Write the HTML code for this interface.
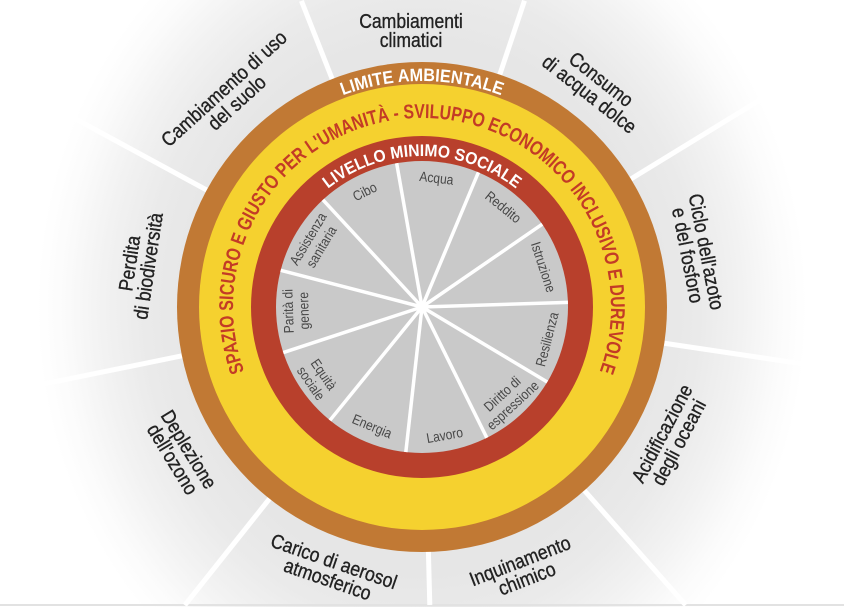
<!DOCTYPE html>
<html>
<head>
<meta charset="utf-8">
<style>
html,body{margin:0;padding:0;background:#fff;width:844px;height:607px;overflow:hidden;}
svg{display:block;}
.ol{font-family:"Liberation Sans",sans-serif;font-size:20px;fill:#222;stroke:#222;stroke-width:0.35px;text-anchor:middle;}
.il{font-family:"Liberation Sans",sans-serif;font-size:14px;fill:#474747;text-anchor:middle;}
.rt{font-family:"Liberation Sans",sans-serif;font-weight:bold;text-anchor:middle;}
</style>
</head>
<body>
<svg width="844" height="607" viewBox="0 0 844 607" xmlns="http://www.w3.org/2000/svg">
<defs>
<radialGradient id="bg" cx="0" cy="0" r="1" gradientUnits="userSpaceOnUse" gradientTransform="translate(422,307) scale(385,440)">
<stop offset="0" stop-color="#e4e4e4"/>
<stop offset="0.6" stop-color="#e6e6e6"/>
<stop offset="0.72" stop-color="#eaeaea"/>
<stop offset="0.83" stop-color="#f2f2f2"/>
<stop offset="0.93" stop-color="#fbfbfb"/>
<stop offset="1" stop-color="#ffffff"/>
</radialGradient>
<path id="pBrown" d="M 196 307 A 226 226 0 0 1 648 307"/>
<path id="pYellow" d="M 267.2 415.4 A 189 189 0 1 1 576.8 415.4"/>
<path id="pRed" d="M 271 307 A 151 151 0 0 1 573 307"/>
</defs>

<rect width="844" height="607" fill="#fff"/>
<rect width="844" height="607" fill="url(#bg)"/>
<rect x="0" y="604" width="844" height="2" fill="#e2e2e2"/>

<!-- outer spokes -->
<g transform="translate(422,307)" stroke="#ffffff" stroke-width="5">
<line x1="0" y1="-240" x2="0" y2="-329" transform="rotate(-21.5)"/>
<line x1="0" y1="-240" x2="0" y2="-323" transform="rotate(18.5)"/>
<line x1="0" y1="-240" x2="0" y2="-420" transform="rotate(58.5)"/>
<line x1="0" y1="-240" x2="0" y2="-420" transform="rotate(98.5)"/>
<line x1="0" y1="-240" x2="0" y2="-398" transform="rotate(138.5)"/>
<line x1="0" y1="-240" x2="0" y2="-298" transform="rotate(178.5)"/>
<line x1="0" y1="-240" x2="0" y2="-381" transform="rotate(218.5)"/>
<line x1="0" y1="-240" x2="0" y2="-420" transform="rotate(258.5)"/>
<line x1="0" y1="-240" x2="0" y2="-420" transform="rotate(298.5)"/>
</g>

<!-- rings -->
<circle cx="422" cy="307" r="245" fill="#c17934"/>
<circle cx="422" cy="307" r="223" fill="#f5d12f"/>
<circle cx="422" cy="307" r="171" fill="#b8402c"/>
<circle cx="422" cy="307" r="146" fill="#c9c9c9"/>

<!-- inner spokes -->
<g transform="translate(422,307)" stroke="#ffffff" stroke-width="3.5">
<line x1="0" y1="0" x2="0" y2="-146" transform="rotate(-10)"/>
<line x1="0" y1="0" x2="0" y2="-146" transform="rotate(22.73)"/>
<line x1="0" y1="0" x2="0" y2="-146" transform="rotate(55.45)"/>
<line x1="0" y1="0" x2="0" y2="-146" transform="rotate(88.18)"/>
<line x1="0" y1="0" x2="0" y2="-146" transform="rotate(120.91)"/>
<line x1="0" y1="0" x2="0" y2="-146" transform="rotate(153.64)"/>
<line x1="0" y1="0" x2="0" y2="-146" transform="rotate(186.36)"/>
<line x1="0" y1="0" x2="0" y2="-146" transform="rotate(219.09)"/>
<line x1="0" y1="0" x2="0" y2="-146" transform="rotate(251.82)"/>
<line x1="0" y1="0" x2="0" y2="-146" transform="rotate(284.55)"/>
<line x1="0" y1="0" x2="0" y2="-146" transform="rotate(317.27)"/>
</g>

<!-- ring texts -->
<text class="rt" font-size="18" fill="#ffffff"><textPath href="#pBrown" startOffset="50%" textLength="162" lengthAdjust="spacingAndGlyphs">LIMITE AMBIENTALE</textPath></text>
<text class="rt" font-size="20" fill="#c33b26"><textPath href="#pYellow" startOffset="50%" textLength="725" lengthAdjust="spacingAndGlyphs">SPAZIO SICURO E GIUSTO PER L'UMANITÀ - SVILUPPO ECONOMICO INCLUSIVO E DUREVOLE</textPath></text>
<text class="rt" font-size="17" fill="#ffffff"><textPath href="#pRed" startOffset="50%" textLength="203" lengthAdjust="spacingAndGlyphs">LIVELLO MINIMO SOCIALE</textPath></text>

<!-- inner labels -->
<g transform="translate(422,307)">
<g transform="rotate(-26.4) translate(0,-129) scale(0.86,1)"><text class="il" y="5">Cibo</text></g>
<g transform="rotate(6.4) translate(0,-130) scale(0.86,1)"><text class="il" y="5">Acqua</text></g>
<g transform="rotate(39.1) translate(0,-129) scale(0.86,1)"><text class="il" y="5">Reddito</text></g>
<g transform="rotate(71.8) translate(0,-128) scale(0.86,1)"><text class="il" y="5">Istruzione</text></g>
<g transform="rotate(104.5) translate(0,-129) rotate(180) scale(0.86,1)"><text class="il" y="5">Resilienza</text></g>
<g transform="rotate(137.3) translate(0,-126) rotate(180) scale(0.86,1)"><text class="il" y="-3">Diritto di</text><text class="il" y="12.5">espressione</text></g>
<g transform="rotate(170) translate(0,-130) rotate(180) scale(0.86,1)"><text class="il" y="5">Lavoro</text></g>
<g transform="rotate(202.7) translate(0,-129) rotate(180) scale(0.86,1)"><text class="il" y="5">Energia</text></g>
<g transform="rotate(235.5) translate(0,-127) rotate(180) scale(0.86,1)"><text class="il" y="-3">Equità</text><text class="il" y="12.5">sociale</text></g>
<g transform="rotate(268.2) translate(0,-126) scale(0.86,1)"><text class="il" y="-3">Parità di</text><text class="il" y="12.5">genere</text></g>
<g transform="rotate(300.9) translate(0,-125) scale(0.86,1)"><text class="il" y="-3">Assistenza</text><text class="il" y="12.5">sanitaria</text></g>
</g>

<!-- outer labels -->
<g transform="translate(411,30) scale(0.88,1)"><text class="ol" y="-2">Cambiamenti</text><text class="ol" y="17">climatici</text></g>
<g transform="translate(422,307)">
<g transform="rotate(38.2) translate(0,-281) scale(0.88,1)"><text class="ol" y="-2">Consumo</text><text class="ol" y="17">di acqua dolce</text></g>
<g transform="rotate(79) translate(0,-281) scale(0.88,1)"><text class="ol" y="-2">Ciclo dell'azoto</text><text class="ol" y="17">e del fosforo</text></g>
<g transform="rotate(117.8) translate(0,-280) rotate(180) scale(0.88,1)"><text class="ol" y="-2">Acidificazione</text><text class="ol" y="17">degli oceani</text></g>
<g transform="rotate(158.9) translate(0,-281) rotate(180) scale(0.88,1)"><text class="ol" y="-2">Inquinamento</text><text class="ol" y="17">chimico</text></g>
<g transform="rotate(199.1) translate(0,-278) rotate(180) scale(0.88,1)"><text class="ol" y="-2">Carico di aerosol</text><text class="ol" y="17">atmosferico</text></g>
<g transform="rotate(238.6) translate(0,-282) rotate(180) scale(0.88,1)"><text class="ol" y="-2">Deplezione</text><text class="ol" y="17">dell'ozono</text></g>
<g transform="rotate(-81.5) translate(0,-287) scale(0.88,1)"><text class="ol" y="-2">Perdita</text><text class="ol" y="17">di biodiversità</text></g>
<g transform="rotate(-42.2) translate(0,-286) scale(0.88,1)"><text class="ol" y="-2">Cambiamento di uso</text><text class="ol" y="17">del suolo</text></g>
</g>
</svg>
</body>
</html>
